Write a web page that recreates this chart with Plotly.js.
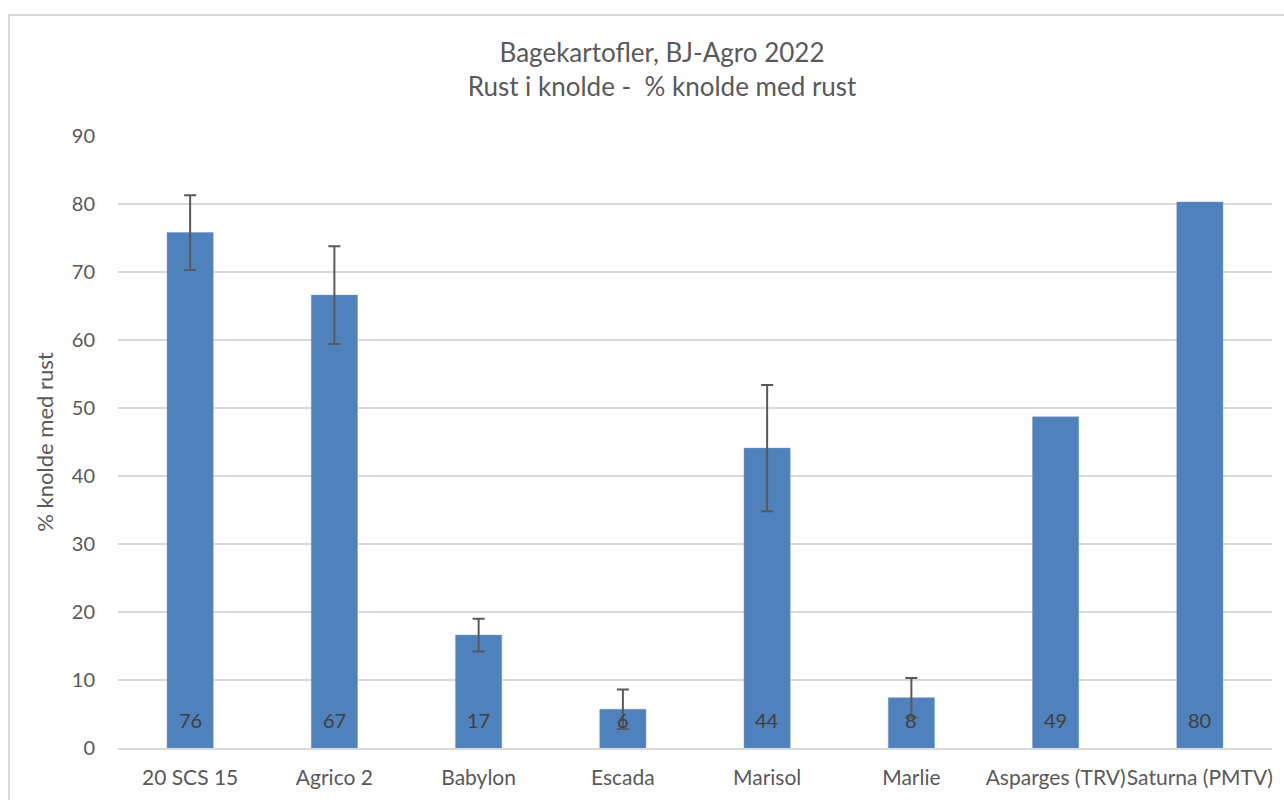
<!DOCTYPE html>
<html>
<head>
<meta charset="utf-8">
<script src="https://cdn.plot.ly/plotly-3.0.1.min.js"></script>
<style>
html,body{margin:0;padding:0;background:#fff;overflow:hidden;}
#frame{position:absolute;left:8px;top:14px;width:1300px;height:820px;border:2px solid #d9d9d9;box-sizing:border-box;pointer-events:none;z-index:5;}
#chart{width:1284px;height:800px;}
</style>
</head>
<body>
<div id="frame"></div>
<div id="chart"></div>
<script>
const categories = ["20 SCS 15","Agrico 2","Babylon","Escada","Marisol","Marlie","Asparges (TRV)","Saturna (PMTV)"];
const values = [75.8, 66.6, 16.6, 5.7, 44.1, 7.4, 48.7, 80.3];
const errors = [5.5, 7.2, 2.4, 2.9, 9.3, 2.9, null, null];
const labels = ["76","67","17","6","44","8","49","80"];
const yTicks = [0,10,20,30,40,50,60,70,80,90];

const FONT = "Lato, 'Open Sans', sans-serif";
const GREY = "#595959";

const barTrace = {
  type: "bar",
  x: categories,
  y: values,
  marker: {color: "#4f81bd", line: {color: "#6f97cc", width: 0.5}},
  width: 0.32,
  hoverinfo: "none"
};

// error bars only for categories that have them (overlaid on the same bars)
const errIdx = errors.map((e, i) => e == null ? -1 : i).filter(i => i >= 0);
const errTrace = {
  type: "bar",
  x: errIdx.map(i => categories[i]),
  y: errIdx.map(i => values[i]),
  marker: {color: "rgba(0,0,0,0)", line: {width: 0}},
  error_y: {type: "data", array: errIdx.map(i => errors[i]), visible: true, color: GREY, thickness: 2, width: 6},
  width: 0.32,
  hoverinfo: "none"
};

const annotations = categories.map((c, i) => ({
  x: c, y: 0, xref: "x", yref: "y",
  text: labels[i], showarrow: false,
  yanchor: "bottom", yshift: 14,
  font: {family: FONT, size: 20, color: "#404040"}
}));

const layout = {
  width: 1284, height: 800,
  margin: {l: 118, r: 12, t: 136, b: 52},
  paper_bgcolor: "rgba(0,0,0,0)",
  plot_bgcolor: "#fff",
  showlegend: false,
  barmode: "overlay",
  title: {
    text: "Bagekartofler, BJ-Agro 2022<br>Rust i knolde -  % knolde med rust",
    x: 0.5156, xref: "container", xanchor: "center",
    y: 0.922, yref: "container", yanchor: "top",
    font: {family: FONT, size: 26, color: GREY}
  },
  xaxis: {
    type: "category",
    categoryorder: "array", categoryarray: categories,
    tickfont: {family: FONT, size: 21, color: GREY},
    tickangle: 0,
    showline: true, linecolor: "#d9d9d9", linewidth: 1.5,
    ticks: "", ticklabelstandoff: 10,
    fixedrange: true
  },
  yaxis: {
    range: [0, 90],
    tickvals: yTicks,
    ticktext: yTicks.map(String),
    tickfont: {family: FONT, size: 20, color: GREY},
    gridcolor: "#d9d9d9", gridwidth: 1.5,
    zeroline: false,
    ticks: "", ticklabelstandoff: 22,
    title: {text: "% knolde med rust", font: {family: FONT, size: 22, color: GREY}, standoff: 12},
    fixedrange: true
  },
  annotations: annotations
};

Plotly.newPlot("chart", [barTrace, errTrace], layout, {displayModeBar: false, staticPlot: true});
</script>
</body>
</html>
